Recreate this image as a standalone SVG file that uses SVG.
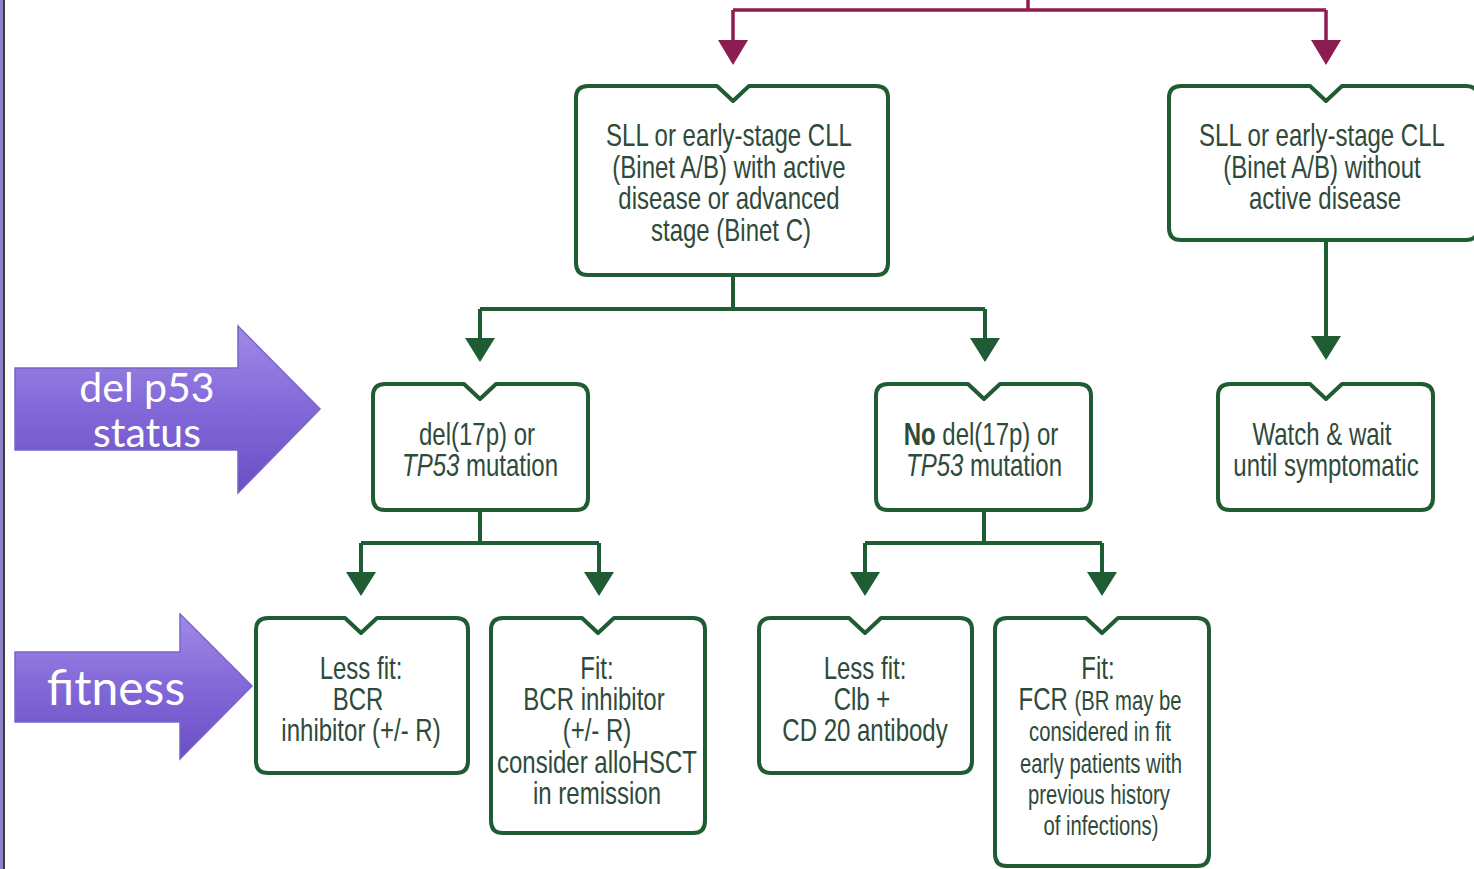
<svg xmlns="http://www.w3.org/2000/svg" width="1474" height="869" viewBox="0 0 1474 869">
<style>
.box{fill:#fff;stroke:#1f5c33;stroke-width:4;stroke-linejoin:round}
.g{fill:none;stroke:#1f5c33;stroke-width:4}
.m{fill:none;stroke:#8c1d50;stroke-width:3.5}
.t{font-family:"Liberation Sans",Arial,sans-serif;fill:#2e4a3b;text-anchor:middle;font-size:32px}
.s{font-size:27px}
.w{font-family:"Lato","Noto Sans",sans-serif;fill:#fff;text-anchor:middle}
</style>
<defs>
<linearGradient id="pg" x1="0" y1="0" x2="0" y2="1">
<stop offset="0" stop-color="#a08ae6"/>
<stop offset="0.5" stop-color="#8268d8"/>
<stop offset="1" stop-color="#6a4fc4"/>
</linearGradient>
</defs>
<rect x="0" y="0" width="1474" height="869" fill="#fff"/>
<rect x="0" y="0" width="3" height="869" fill="#8f80c8"/>
<rect x="3" y="0" width="2" height="869" fill="#3c3c3c"/>

<g id="connectors">
<path class="m" d="M1028,0 V10 M733,10 H1326 M733,10 V42 M1326,10 V42"/>
<path d="M718,40 H748 L733,65 Z M1311,40 H1341 L1326,65 Z" fill="#8c1d50"/>
<path class="g" d="M733,275 V309 M480,309 H985 M480,309 V340 M985,309 V340"/>
<path d="M465,338 H495 L480,362 Z M970,338 H1000 L985,362 Z" fill="#1f5c33"/>
<path class="g" d="M1326,240 V340"/>
<path d="M1311,336 H1341 L1326,360 Z" fill="#1f5c33"/>
<path class="g" d="M480,510 V543 M361,543 H599 M361,543 V574 M599,543 V574"/>
<path d="M346,572 H376 L361,596 Z M584,572 H614 L599,596 Z" fill="#1f5c33"/>
<path class="g" d="M984,510 V543 M865,543 H1102 M865,543 V574 M1102,543 V574"/>
<path d="M850,572 H880 L865,596 Z M1087,572 H1117 L1102,596 Z" fill="#1f5c33"/>
</g>

<g id="node-active">
<path class="box" d="M588,86 H717 L733,101 L749,86 H876 Q888,86 888,98 V263 Q888,275 876,275 H588 Q576,275 576,263 V98 Q576,86 588,86 Z"/>
<text class="t" transform="translate(729 146) scale(0.75 1)">SLL or early-stage CLL</text>
<text class="t" transform="translate(729 178) scale(0.75 1)">(Binet A/B) with active</text>
<text class="t" transform="translate(729 209) scale(0.75 1)">disease or advanced</text>
<text class="t" transform="translate(731 241) scale(0.75 1)">stage (Binet C)</text>
</g>

<g id="node-inactive">
<path class="box" d="M1181,86 H1310 L1326,101 L1342,86 H1466 Q1478,86 1478,98 V228 Q1478,240 1466,240 H1181 Q1169,240 1169,228 V98 Q1169,86 1181,86 Z"/>
<text class="t" transform="translate(1322 146) scale(0.75 1)">SLL or early-stage CLL</text>
<text class="t" transform="translate(1322 178) scale(0.75 1)">(Binet A/B) without</text>
<text class="t" transform="translate(1325 209) scale(0.75 1)">active disease</text>
</g>

<g id="node-del">
<path class="box" d="M385,384 H464 L480,399 L496,384 H576 Q588,384 588,396 V498 Q588,510 576,510 H385 Q373,510 373,498 V396 Q373,384 385,384 Z"/>
<text class="t" transform="translate(477 445) scale(0.75 1)">del(17p) or</text>
<text class="t" transform="translate(480 476) scale(0.75 1)"><tspan font-style="italic">TP53</tspan> mutation</text>
</g>

<g id="node-nodel">
<path class="box" d="M888,384 H968 L984,399 L1000,384 H1079 Q1091,384 1091,396 V498 Q1091,510 1079,510 H888 Q876,510 876,498 V396 Q876,384 888,384 Z"/>
<text class="t" transform="translate(981 445) scale(0.75 1)"><tspan font-weight="bold">No</tspan> del(17p) or</text>
<text class="t" transform="translate(984 476) scale(0.75 1)"><tspan font-style="italic">TP53</tspan> mutation</text>
</g>

<g id="node-watch">
<path class="box" d="M1230,384 H1310 L1326,399 L1342,384 H1421 Q1433,384 1433,396 V498 Q1433,510 1421,510 H1230 Q1218,510 1218,498 V396 Q1218,384 1230,384 Z"/>
<text class="t" transform="translate(1322 445) scale(0.75 1)">Watch &amp; wait</text>
<text class="t" transform="translate(1326 476) scale(0.75 1)">until symptomatic</text>
</g>

<g id="node-del-lessfit">
<path class="box" d="M268,618 H345 L361,633 L377,618 H456 Q468,618 468,630 V761 Q468,773 456,773 H268 Q256,773 256,761 V630 Q256,618 268,618 Z"/>
<text class="t" transform="translate(361 679) scale(0.75 1)">Less fit:</text>
<text class="t" transform="translate(358 710) scale(0.75 1)">BCR</text>
<text class="t" transform="translate(361 741) scale(0.75 1)">inhibitor (+/- R)</text>
</g>

<g id="node-del-fit">
<path class="box" d="M503,618 H582 L598,633 L614,618 H693 Q705,618 705,630 V821 Q705,833 693,833 H503 Q491,833 491,821 V630 Q491,618 503,618 Z"/>
<text class="t" transform="translate(597 679) scale(0.75 1)">Fit:</text>
<text class="t" transform="translate(594 710) scale(0.75 1)">BCR inhibitor</text>
<text class="t" transform="translate(597 741) scale(0.75 1)">(+/- R)</text>
<text class="t" transform="translate(597 773) scale(0.75 1)">consider alloHSCT</text>
<text class="t" transform="translate(597 804) scale(0.75 1)">in remission</text>
</g>

<g id="node-nodel-lessfit">
<path class="box" d="M771,618 H849 L865,633 L881,618 H960 Q972,618 972,630 V761 Q972,773 960,773 H771 Q759,773 759,761 V630 Q759,618 771,618 Z"/>
<text class="t" transform="translate(865 679) scale(0.75 1)">Less fit:</text>
<text class="t" transform="translate(862 710) scale(0.75 1)">Clb +</text>
<text class="t" transform="translate(865 741) scale(0.75 1)">CD 20 antibody</text>
</g>

<g id="node-nodel-fit">
<path class="box" d="M1007,618 H1086 L1102,633 L1118,618 H1197 Q1209,618 1209,630 V854 Q1209,866 1197,866 H1007 Q995,866 995,854 V630 Q995,618 1007,618 Z"/>
<text class="t" transform="translate(1098 679) scale(0.75 1)">Fit:</text>
<text class="t" transform="translate(1100 710) scale(0.75 1)">FCR <tspan class="s">(BR may be</tspan></text>
<text class="t s" transform="translate(1100 741) scale(0.75 1)">considered in fit</text>
<text class="t s" transform="translate(1101 773) scale(0.75 1)">early patients with</text>
<text class="t s" transform="translate(1099 804) scale(0.75 1)">previous history</text>
<text class="t s" transform="translate(1101 835) scale(0.75 1)">of infections)</text>
</g>

<g id="arrow-delp53">
<path d="M15,368 H238 V326 L320,409 L238,493 V450 H15 Z" fill="url(#pg)" stroke="#7a64c8" stroke-width="1.5"/>
<text class="w" x="147" y="402" font-size="41">del p53</text>
<text class="w" x="147" y="447" font-size="41">status</text>
</g>

<g id="arrow-fitness">
<path d="M15,652 H180 V614 L252,686 L180,759 V722 H15 Z" fill="url(#pg)" stroke="#7a64c8" stroke-width="1.5"/>
<text class="w" x="116" y="705" font-size="48">fitness</text>
</g>
</svg>
